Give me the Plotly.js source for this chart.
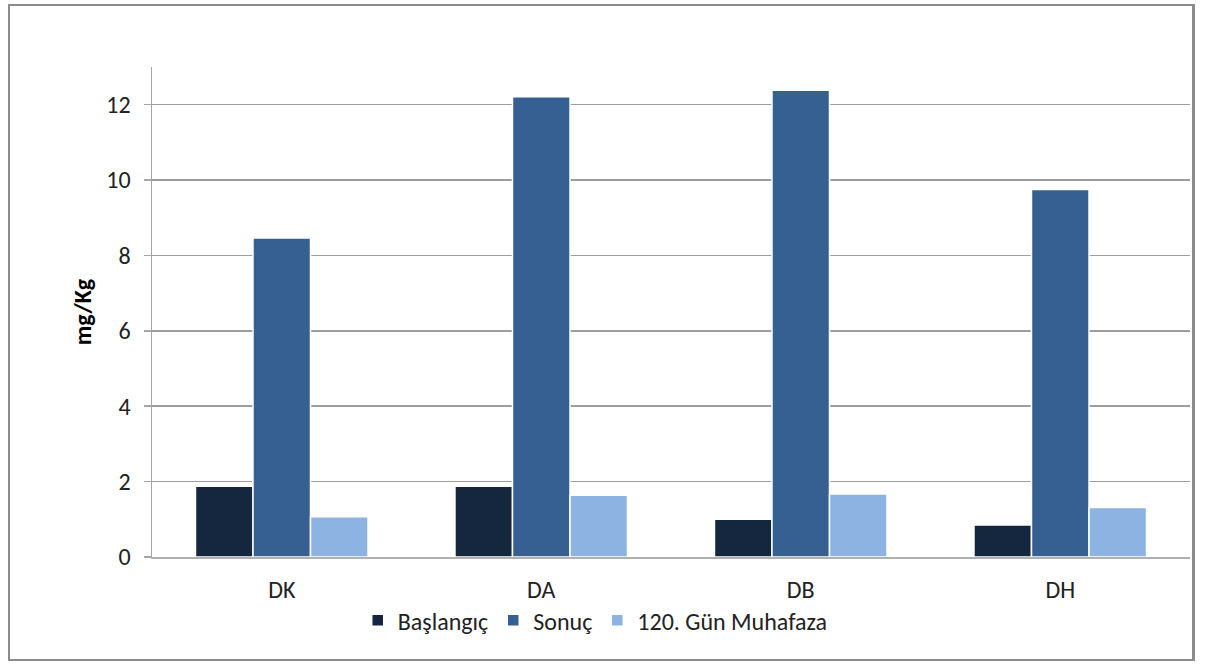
<!DOCTYPE html>
<html>
<head>
<meta charset="utf-8">
<script src="https://cdn.plot.ly/plotly-3.0.1.min.js"></script>
<style>
  html, body { margin: 0; padding: 0; background: #fff; }
  #chart { width: 1208px; height: 664px; }
  #frame {
    position: absolute; left: 8px; top: 4px; width: 1182px; height: 653px;
    border: 2px solid #8c8c8c; border-right-width: 3px; border-bottom-width: 2px;
    pointer-events: none;
  }
</style>
</head>
<body>
<div id="chart"></div>
<div id="frame"></div>
<script>
// Samples and measured concentrations (mg/Kg)
const categories = ["DK", "DA", "DB", "DH"];
const seriesNames = ["Başlangıç", "Sonuç", "120. Gün Muhafaza"];
const baslangic = [1.88, 1.88, 1.00, 0.85];
const sonuc = [8.46, 12.21, 12.38, 9.75];
const muhafaza120 = [1.07, 1.64, 1.67, 1.31];
const yTicks = [0, 2, 4, 6, 8, 10, 12];

const colors = ["#14273f", "#366092", "#8db3e2"];
const values = [baslangic, sonuc, muhafaza120];

const font = "Carlito, Lato, 'Liberation Sans', sans-serif";

const traces = values.map((v, i) => ({
  type: "bar",
  name: seriesNames[i],
  x: categories,
  y: v,
  marker: { color: colors[i], line: { color: "#ffffff", width: 1.5 } },
  hoverinfo: "x+y+name"
}));

const layout = {
  width: 1208,
  height: 664,
  margin: { l: 152, r: 18, t: 67, b: 107 },
  paper_bgcolor: "#ffffff",
  plot_bgcolor: "#ffffff",
  barmode: "group",
  bargap: 0.335,
  bargroupgap: 0.0,
  font: { family: font, size: 24, color: "#222" },
  xaxis: {
    type: "category",
    showline: true,
    linecolor: "#b0b0b0",
    linewidth: 2,
    ticks: "",
    ticklabelstandoff: 10,
    tickfont: { family: font, size: 24, color: "#222" },
    showgrid: false,
    fixedrange: true
  },
  yaxis: {
    range: [0, 13],
    tickvals: yTicks,
    ticktext: yTicks.map(String),
    showline: true,
    linecolor: "#a6a6a6",
    linewidth: 1.5,
    ticks: "outside",
    ticklen: 7,
    tickcolor: "#a6a6a6",
    tickwidth: 1.5,
    showgrid: true,
    gridcolor: "#9d9d9d",
    gridwidth: 1.5,
    zeroline: false,
    ticklabelstandoff: 8,
    tickfont: { family: font, size: 24, color: "#222" },
    title: { text: "<b>mg/Kg</b>", font: { family: font, size: 24, color: "#000" }, standoff: 8 },
    fixedrange: true
  },
  legend: {
    orientation: "h",
    x: 0.427,
    xanchor: "center",
    y: -0.13,
    yanchor: "middle",
    bgcolor: "rgba(0,0,0,0)",
    font: { family: font, size: 24, color: "#222" },
    itemwidth: 30,
    traceorder: "normal"
  },
  showlegend: true
};

Plotly.newPlot("chart", traces, layout, { displayModeBar: false, staticPlot: true });
</script>
</body>
</html>
